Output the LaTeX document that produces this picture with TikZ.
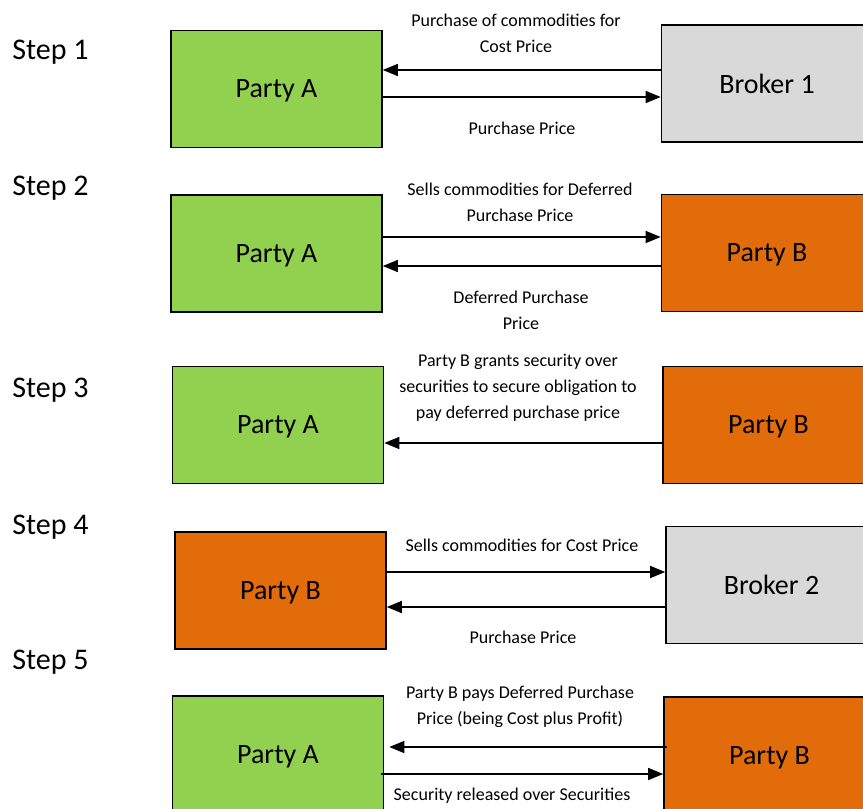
\documentclass[tikz,border=0pt]{standalone}
\usepackage{fontspec}
\setmainfont{Carlito}
\usetikzlibrary{arrows.meta}
\definecolor{PartyGreen}{RGB}{146,208,80}
\definecolor{PartyOrange}{RGB}{227,108,10}
\definecolor{BrokerGray}{RGB}{217,217,217}
\tikzset{
  caixa/.style={draw=black, line width=0.8pt, minimum width=105.5pt, minimum height=58.5pt,
                inner sep=0pt, align=center, text depth=0pt, font=\fontsize{14}{16}\selectfont},
  partya/.style={caixa, fill=PartyGreen},
  partyb/.style={caixa, fill=PartyOrange},
  broker/.style={caixa, fill=BrokerGray},
  seta/.style={-{Triangle[length=7.5pt,width=6pt]}, line width=0.75pt, black},
  nota/.style={font=\fontsize{9}{13}\selectfont, align=center, inner sep=0pt},
  etapa/.style={font=\fontsize{15}{17}\selectfont, anchor=west, inner sep=0pt},
}

\begin{document}
\begin{tikzpicture}[x=0.5pt, y=-0.5pt]
  \useasboundingbox (0,0) rectangle (863,809);

  % etapas
  \node[etapa] (s1) at (12,52)  {Step 1};
  \node[etapa] (s2) at (12,188) {Step 2};
  \node[etapa] (s3) at (12,390) {Step 3};
  \node[etapa] (s4) at (12,527) {Step 4};
  \node[etapa] (s5) at (12,662) {Step 5};

  % Step 1
  \node[partya] (a1) at (276.5,89)  {Party A};
  \node[broker] (k1) at (767,83.5)  {Broker 1};
  \draw[seta] (k1.west |- 0,70) -- (a1.east |- 0,70);
  \draw[seta] (a1.east |- 0,97) -- (k1.west |- 0,97);
  \node[nota] (n1a) at (516,33)  {Purchase of commodities for\\Cost Price};
  \node[nota] (n1b) at (522,128) {Purchase Price};

  % Step 2
  \node[partya] (a2) at (276.5,253.5) {Party A};
  \node[partyb] (b2) at (767,253)     {Party B};
  \draw[seta] (a2.east |- 0,237) -- (b2.west |- 0,237);
  \draw[seta] (b2.west |- 0,266) -- (a2.east |- 0,266);
  \node[nota] (n2a) at (520,202)   {Sells commodities for Deferred\\Purchase Price};
  \node[nota] (n2b) at (521,310.5) {Deferred Purchase\\Price};

  % Step 3
  \node[partya] (a3) at (278,425)   {Party A};
  \node[partyb] (b3) at (768.5,425) {Party B};
  \draw[seta] (b3.west |- 0,443) -- (a3.east |- 0,443);
  \node[nota] (n3) at (518,388)
    {Party B grants security over\\securities to secure obligation to\\pay deferred purchase price};

  % Step 4
  \node[partyb] (b4) at (280.5,590.5) {Party B};
  \node[broker] (k2) at (771.5,585)   {Broker 2};
  \draw[seta] (b4.east |- 0,572) -- (k2.west |- 0,572);
  \draw[seta] (k2.west |- 0,607) -- (b4.east |- 0,607);
  \node[nota] (n4a) at (522,545) {Sells commodities for Cost Price};
  \node[nota] (n4b) at (523,637) {Purchase Price};

  % Step 5
  \node[partya] (a5) at (278,754.5)   {Party A};
  \node[partyb] (b5) at (769.5,755.5) {Party B};
  \draw[seta, shorten <=-2pt, shorten >=2.5pt] (b5.west |- 0,747) -- (a5.east |- 0,747);
  \draw[seta, shorten <=-1.5pt] (a5.east |- 0,774) -- (b5.west |- 0,774);
  \node[nota] (n5a) at (520,707) {Party B pays Deferred Purchase\\Price (being Cost plus Profit)};
  \node[nota] (n5b) at (512,796) {Security released over Securities};
\end{tikzpicture}
\end{document}
